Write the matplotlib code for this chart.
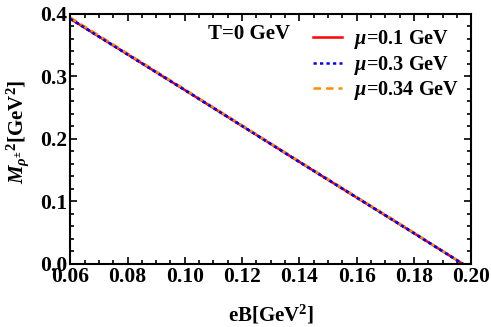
import matplotlib
matplotlib.use('Agg')
import matplotlib.pyplot as plt
import numpy as np
from matplotlib.ticker import MultipleLocator

plt.rcParams['font.family'] = ['Liberation Serif', 'DejaVu Serif']
plt.rcParams['font.weight'] = 'bold'
plt.rcParams['mathtext.fontset'] = 'custom'
plt.rcParams['mathtext.rm'] = 'Liberation Serif:bold'
plt.rcParams['mathtext.it'] = 'Liberation Serif:italic:bold'
plt.rcParams['mathtext.bf'] = 'Liberation Serif:bold'

# eB [GeV^2] and M^2 [GeV^2]
eB = [0.06, 0.10, 0.14, 0.18, 0.197]
m2_01 = [0.392, 0.278, 0.163, 0.049, 0.0]
m2_03 = [0.392, 0.278, 0.163, 0.049, 0.0]
m2_034 = [0.394, 0.279, 0.164, 0.050, 0.0]

fig = plt.figure(figsize=(4.91, 3.27), dpi=100)
ax = fig.add_axes([0.143, 0.193, 0.817, 0.765])

ax.plot(eB, m2_01, color='#ff0000', lw=1.8, label=r'$\mu$=0.1 GeV')
ax.plot(eB, m2_03, color='#0000ff', lw=1.8, ls=(0, (1.3, 1.3)), label=r'$\mu$=0.3 GeV')
ax.plot(eB, m2_034, color='#ff8c00', lw=1.8, ls=(0, (3, 2)), label=r'$\mu$=0.34 GeV')
# redraw blue on top like the source
ax.plot(eB, m2_03, color='#0000ff', lw=1.8, ls=(0, (1.3, 1.3)))

ax.set_xlim(0.06, 0.20)
ax.set_ylim(0.0, 0.4)
ax.xaxis.set_major_locator(MultipleLocator(0.02))
ax.xaxis.set_minor_locator(MultipleLocator(0.005))
ax.yaxis.set_major_locator(MultipleLocator(0.1))
ax.yaxis.set_minor_locator(MultipleLocator(0.02))
ax.xaxis.set_major_formatter(plt.FormatStrFormatter('%.2f'))
ax.yaxis.set_major_formatter(plt.FormatStrFormatter('%.1f'))
ax.tick_params(which='both', direction='in', top=True, right=True, labelsize=15.5, width=1.2)
ax.tick_params(which='major', length=5)
ax.tick_params(axis='x', which='major', pad=2)
ax.tick_params(axis='y', which='major', pad=2)
ax.tick_params(which='minor', length=3)
for s in ax.spines.values():
    s.set_linewidth(1.5)

ax.set_xlabel(r'eB[GeV$^\mathbf{2}$]', fontsize=15, fontweight='bold', labelpad=12)
ax.set_ylabel(r'$M_{\rho^{\pm}}$$^\mathbf{2}$[GeV$^\mathbf{2}$]', fontsize=15, fontweight='bold')
ax.yaxis.set_label_coords(-0.098, 0.53)

ax.text(0.344, 0.96, 'T=0 GeV', transform=ax.transAxes, fontsize=15, fontweight='bold', va='top')

leg = ax.legend(loc='upper right', bbox_to_anchor=(1.0, 0.99), frameon=False, handlelength=1.4,
                borderaxespad=0.2, labelspacing=0.12, handletextpad=0.6,
                prop={'weight': 'bold', 'size': 14.6})

fig.savefig('out.png', dpi=100)
